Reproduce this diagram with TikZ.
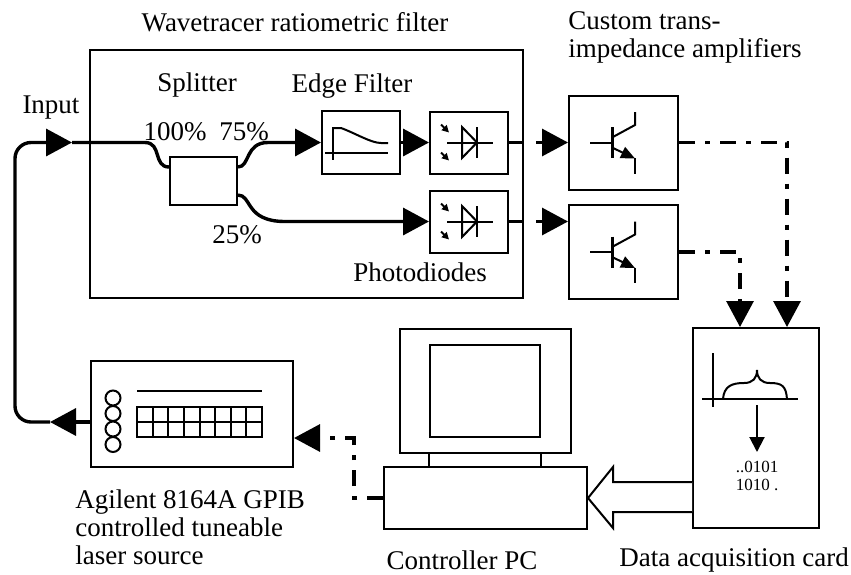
\documentclass[tikz,border=0pt]{standalone}
\usepackage{fontspec}
\setmainfont{Liberation Serif}
\usetikzlibrary{arrows.meta,positioning}

\begin{document}
\begin{tikzpicture}
	[
	x = 0.5pt,
	y = -0.5pt,
	font = \fontsize{13.5}{14}\selectfont,
	box/.style = {draw = black, line width = 1pt, inner sep = 0pt, fill = white},
	fiber/.style = {line width = 1.7pt},
	wire/.style = {line width = 1.6pt},
	signal/.style = {line width = 1.6pt, dash pattern = on 8pt off 5pt on 2.5pt off 5pt},
	arr/.style = {-{Triangle[length = 13pt, width = 13.5pt]}},
	sym/.style = {line width = 1pt},
	txt/.style = {inner sep = 0pt}]
	
	\useasboundingbox (0,0) rectangle (851,574);
	
	%% Boxes
	
	\node[box, minimum width = 216.5pt, minimum height = 124pt] (filter) at (306.5,174) {};
	\node[box, minimum width = 33.5pt, minimum height = 24pt] (split) at (203.5,181) {};
	\node[box, minimum width = 39pt, minimum height = 31.5pt] (edgef) at (361,142.5) {};
	\node[box, minimum width = 39pt, minimum height = 31pt] (pd1) at (469,142.5) {};
	\node[box, minimum width = 39pt, minimum height = 31pt] (pd2) at (469,221.5) {};
	\node[box, minimum width = 54.5pt, minimum height = 47pt] (amp1) at (623.5,142.5) {};
	\node[box, minimum width = 54.5pt, minimum height = 47pt] (amp2) at (623.5,252) {};
	\node[box, minimum width = 63pt, minimum height = 100pt] (daq) at (756,428) {};
	\node[box, minimum width = 85.5pt, minimum height = 62pt] (monitor) at (485.5,391) {};
	\node[box, minimum width = 55pt, minimum height = 46pt] (screen) at (485,391) {};
	\node[box, minimum width = 101.5pt, minimum height = 31pt] (pc) at (485.5,498) {};
	\node[box, minimum width = 101pt, minimum height = 53pt] (laser) at (192,414) {};
	
	\draw[sym] (screen.south west |- monitor.south) -- (screen.south west |- pc.north);
	\draw[sym] (screen.south east |- monitor.south) -- (screen.south east |- pc.north);
	
	%% Labels
	
	\node[txt] (title) at (295,22) {Wavetracer ratiometric filter};
	\node[txt, anchor = west, align = left] (ampname) at (568,37) {Custom trans-\\impedance amplifiers};
	\node[txt] (input) at (51,108) {Input};
	\node[txt] (splitname) at (197,85) {Splitter};
	\node[txt] (in100) at (175,132) {100\%};
	\node[txt] (out75) at (244,132) {75\%};
	\node[txt] (out25) at (237,235) {25\%};
	\node[txt] (edgename) at (352,86) {Edge Filter};
	\node[txt] (pdname) at (420,272) {Photodiodes};
	\node[txt, anchor = north west, align = left] (lasername) at (75,489) {Agilent 8164A GPIB\\controlled tuneable\\laser source};
	\node[txt] (pcname) at (462,560) {Controller PC};
	\node[txt] (daqname) at (734,560) {Data acquisition card};
	
	%% Fibre path
	
	\coordinate (lasertip) at (50,422);
	\coordinate (inputtip) at (72,142.5);
	\draw[fiber, arr] ([yshift = -4pt]laser.west) -- (lasertip);
	\draw[fiber, arr, rounded corners = 8pt] (lasertip) -| (15,142.5) -- (inputtip);
	\draw[fiber] (inputtip) -- (145,142.5) .. controls (162,142.5) and (153,167) .. ([yshift = 7pt]split.west);
	\draw[fiber, arr] ([yshift = 7pt]split.east) .. controls (250,167) and (245,142.5) .. (268,142.5) -- (edgef.west);
	\draw[fiber, arr] ([yshift = -7pt]split.east) .. controls (252,195) and (245,221.5) .. (285,221.5) -- (pd2.west);
	\draw[fiber, arr] (edgef.east) -- (pd1.west);
	
	%% Photodiode outputs
	
	\foreach \p/\a in {pd1/amp1, pd2/amp2} {
		\draw[wire] (\p.east) -- (\p.east -| filter.east);
		\draw[wire, arr] ([xshift = 6pt]\p.east -| filter.east) -- (\p.east -| \a.west);
	}
	
	%% Signal lines
	
	\draw[signal, arr] (amp1.east) -| ([xshift = 15.5pt]daq.north);
	\draw[signal, arr] (amp2.east) -| ([xshift = -8pt]daq.north);
	\draw[signal, arr] (pc.west) -- ++(-29,0) |- ([yshift = -12pt]laser.east);
	\draw[box] ([yshift = -27pt]daq.west) -- (613,482) -- (613,467) -- (pc.east) -- (613,528) -- (613,512) -- ([yshift = -42pt]daq.west);
	
	%% Symbols in the boxes
	
	\begin{scope}[shift = {(edgef.center)}, sym]
		\draw (-28,-15.5) -- (-28,17.5);
		\draw (-36,10.5) -- (27,10.5);
		\draw (-28,-14.5) -- (-20,-14.5) .. controls (-5,-9) and (10,0.5) .. (20,0.5) -- (27,0.5);
	\end{scope}
	
	\foreach \p in {pd1, pd2} {
		\begin{scope}[shift = {(\p.center)}, sym]
			\draw (-22,0) -- (24,0);
			\draw (-7,-15.5) -- (-7,15.5) -- (8,0) -- cycle;
			\draw (8,-15.5) -- (8,15.5);
			\draw[-{Triangle[length = 3.5pt, width = 3.5pt]}] (-28,-18) -- (-20,-10);
			\draw[-{Triangle[length = 3.5pt, width = 3.5pt]}] (-28,10) -- (-20,18);
		\end{scope}
	}
	
	\foreach \a in {amp1, amp2} {
		\begin{scope}[shift = {(\a.center)}, sym]
			\draw (-33.5,0) -- (-11.5,0);
			\draw[line width = 1.5pt] (-11.5,-15.5) -- (-11.5,15.5);
			\draw (-11.5,-5) -- (11.5,-17.5) -- (11.5,-30.5);
			\draw[-{Triangle[length = 7pt, width = 6pt]}] (-11.5,5) -- (11.5,16);
			\draw (11.5,15.5) -- (11.5,31);
		\end{scope}
	}
	
	\begin{scope}[shift = {(laser.center)}, sym]
		\foreach \y in {-16, -0.5, 15, 30.5}
			\draw (-79,\y) circle[radius = 3.75pt];
		\draw (-55,-23) -- (70,-23);
		\draw (-55,-7) rectangle (70,23);
		\draw (-55,8) -- (70,8);
		\foreach \i in {1,...,7}
			\draw ({-55+\i*125/8},-7) -- ({-55+\i*125/8},23);
	\end{scope}
	
	\begin{scope}[shift = {(daq.center)}, sym]
		\draw (-43,-75) -- (-43,-21);
		\draw (-54,-29) -- (42,-29);
		\draw (-33,-29) .. controls (-32,-42) and (-24,-45) .. (-12,-45) .. controls (-3,-45) and (1,-50) .. (1,-58) .. controls (1,-50) and (5,-45) .. (14,-45) .. controls (26,-45) and (30,-42) .. (31,-29);
		\draw[-{Triangle[length = 7.5pt, width = 7.5pt]}] (1,-23) -- (1,24);
		\node[txt, font = \fontsize{8.5}{9}\selectfont, align = center] (bits) at (1,48) {..0101\\1010 .};
	\end{scope}
\end{tikzpicture}
\end{document}
